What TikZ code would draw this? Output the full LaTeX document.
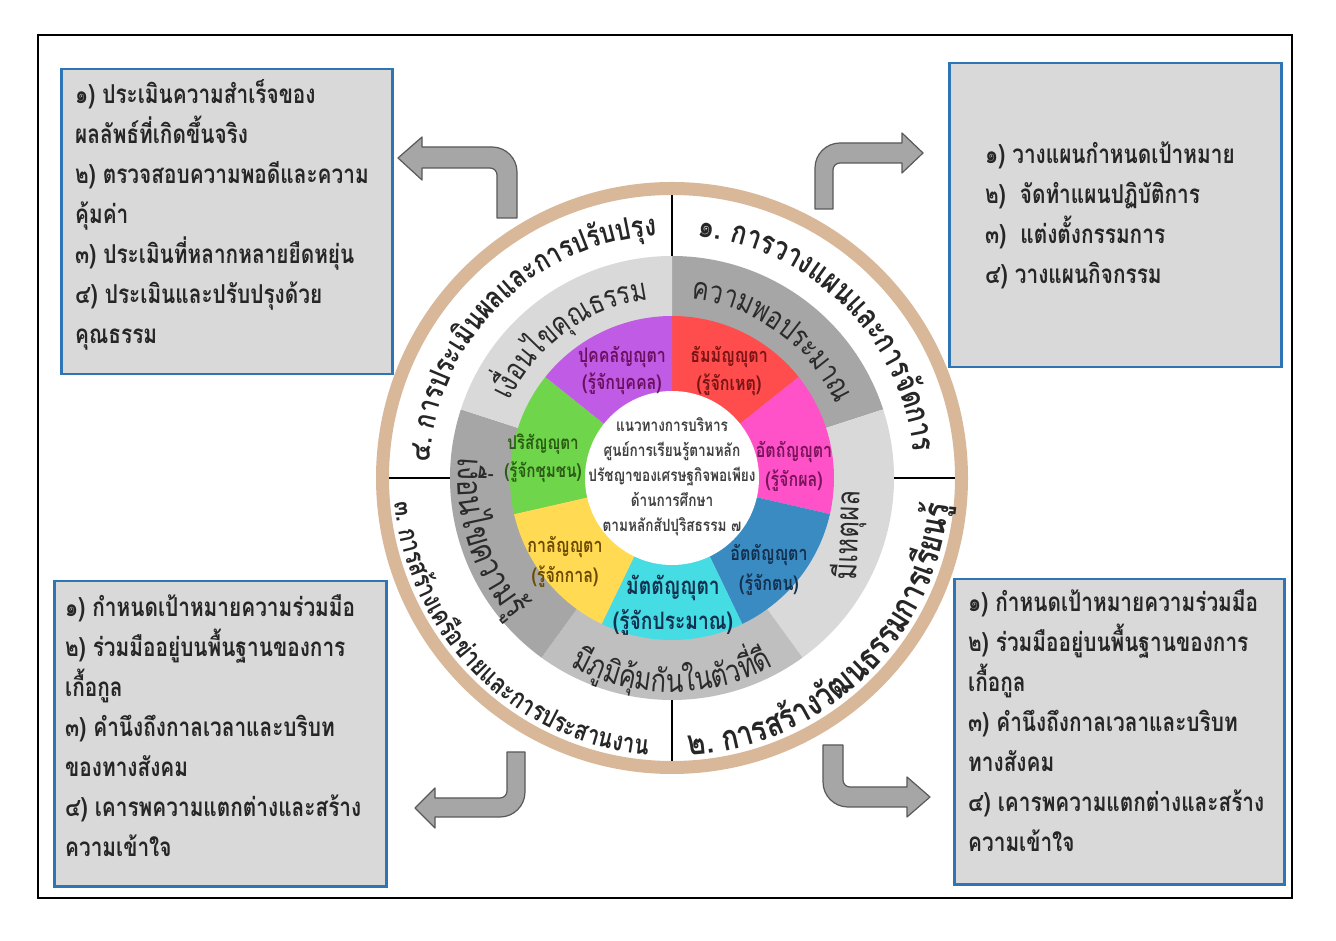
\documentclass[tikz,border=0pt]{standalone}
\usepackage{fontspec}
\setmainfont{Loma}[Script=Thai,FakeStretch=0.8]
\usetikzlibrary{decorations.text}
\definecolor{textcol}{HTML}{262626}
\definecolor{bandtext}{HTML}{2B2B2B}
\definecolor{hubtext}{HTML}{404040}
\definecolor{ringtan}{HTML}{D9B89A}
\definecolor{boxfill}{HTML}{D9D9D9}
\definecolor{boxline}{HTML}{2E75B6}
\definecolor{arrowfill}{HTML}{A6A6A6}
\definecolor{arrowline}{HTML}{595959}
\definecolor{bandcol1}{HTML}{A6A6A6}
\definecolor{bandcol2}{HTML}{D9D9D9}
\definecolor{bandcol3}{HTML}{BFBFBF}
\definecolor{vircol1}{HTML}{FF4D4D}
\definecolor{vircol2}{HTML}{FF52C8}
\definecolor{vircol3}{HTML}{3A8BC2}
\definecolor{vircol4}{HTML}{45DCE4}
\definecolor{vircol5}{HTML}{FFDA52}
\definecolor{vircol6}{HTML}{6FD64C}
\definecolor{vircol7}{HTML}{C05BE6}
\definecolor{virtxt1}{HTML}{7A1414}
\definecolor{virtxt2}{HTML}{7A145A}
\definecolor{virtxt3}{HTML}{14304F}
\definecolor{virtxt4}{HTML}{14304F}
\definecolor{virtxt5}{HTML}{6B4A00}
\definecolor{virtxt6}{HTML}{2A5A14}
\definecolor{virtxt7}{HTML}{6A1060}
\newcommand\ringfont[1]{\fontsize{#1}{#1}\selectfont\bfseries}
\newcommand\bandfont[1]{\fontsize{#1}{#1}\selectfont}
\tikzset{
  infobox/.style={draw=boxline,fill=boxfill,line width=2.5,anchor=north west},
  boxtext/.style={align=left,inner sep=0,text=textcol,font=\fontsize{26}{40}\selectfont\bfseries},
  bentarrow/.style={fill=arrowfill,draw=arrowline,line width=1.2,line join=round},
  ringlabel/.style={decorate,decoration={text along path,text align=center,text color=textcol,text={#1}}},
  bandlabel/.style={decorate,decoration={text along path,text align=center,text color=bandtext,text={#1}}},
  virtue/.style={align=center,inner sep=0},
}

\begin{document}
\begin{tikzpicture}[x=1pt,y=1pt]
\useasboundingbox (0,0) rectangle (1336,940);
\fill[white] (0,0) rectangle (1336,940);
\draw[line width=1.6] (38,42) rectangle (1292,905);

% wheel
\begin{scope}[shift={(672,462)}]
\foreach \col [count=\i from 0] in {bandcol1,bandcol2,bandcol3,bandcol1,bandcol2}{
	\pgfmathsetmacro\a{90-72*\i}
	\fill[\col] (0,0) -- (\a:222) arc[start angle=\a,delta angle=-72,radius=222] -- cycle;
	}
\foreach \i in {1,...,7}{
	\pgfmathsetmacro\a{90-360/7*(\i-1)}
	\fill[vircol\i] (0,0) -- (\a:162) arc[start angle=\a,delta angle=-51.4286,radius=162] -- cycle;
	}
\fill[white] (0,0) circle[radius=87];
\foreach \name/\sub/\fs/\ls/\px/\py [count=\i] in {
	ธัมมัญญุตา/รู้จักเหตุ/20/28/57/107,
	อัตถัญญุตา/รู้จักผล/20/29/122/12,
	อัตตัญญุตา/รู้จักตน/20/30/97/-92,
	มัตตัญญุตา/รู้จักประมาณ/24/35/1/-127,
	กาลัญญุตา/รู้จักกาล/20/30/-107/-84,
	ปริสัญญุตา/รู้จักชุมชน/19/28/-129/20,
	ปุคคลัญญุตา/รู้จักบุคคล/20/27/-50/107%
	}{
	\node[virtue,text=virtxt\i,font=\fontsize{\fs}{\ls}\selectfont\bfseries] (virtue\i) at (\px,\py) {\name\\(\sub)};
	}
\node[align=center,font=\fontsize{17}{25}\selectfont\bfseries,text=hubtext] (hub) at (0,1)
	{แนวทางการบริหาร\\ศูนย์การเรียนรู้ตามหลัก\\ปรัชญาของเศรษฐกิจพอเพียง\\ด้านการศึกษา\\ตามหลักสัปปุริสธรรม ๗};
\draw[ringtan,line width=13] (0,0) circle[radius=289.5];
\foreach \a in {0,90,180,270}
	\draw[line width=1.6] (\a:222) -- (\a:283);

% band texts
\path[bandlabel={|\bandfont{31}|ความพอประมาณ}] (90:180) arc[start angle=90,end angle=18,radius=180];
\path[bandlabel={|\bandfont{31}|เ{งื่}อนไข{คุ}ณธรรม}] (162:180) arc[start angle=162,end angle=90,radius=180];
\path[bandlabel={|\bandfont{32}|{มี}{ภู}{มิ}{คุ้}ม{กั}นใน{ตั}ว{ที่}{ดี}}] (-126:214) arc[start angle=-126,end angle=-54,radius=214];
\path[bandlabel={|\bandfont{35}|เ{งื่}อนไขความ{รู้}}] (162:214) arc[start angle=162,end angle=234,radius=214];
\node[text=bandtext,font=\bandfont{32},rotate=88] (reason) at (-18:186) {มีเหตุผล};

% ring texts
\path[ringlabel={|\ringfont{32}|๑. การวางแผนและการ{จั}ดการ}] (90:243) arc[start angle=90,end angle=0,radius=243];
\path[ringlabel={|\ringfont{35}|๒. การส{ร้}าง{วั}ฒนธรรมการเ{รี}ยน{รู้}}] (-92:278) arc[start angle=-92,end angle=0,radius=278];
\path[ringlabel={|\ringfont{27}|๓. การส{ร้}างเค{รื}อ{ข่}ายและการประสานงาน}] (180:278) arc[start angle=180,end angle=270,radius=278];
\path[ringlabel={|\ringfont{30}|๔. การประเ{มิ}นผลและการป{รั}บป{รุ}ง}] (180:243) arc[start angle=180,end angle=90,radius=243];
\end{scope}

% boxes
\node[infobox,minimum width=331,minimum height=305] (evalbox) at (60,872) {};
\node[infobox,minimum width=332,minimum height=304] (planbox) at (948,878) {};
\node[infobox,minimum width=332,minimum height=305] (netbox) at (53,360) {};
\node[infobox,minimum width=330,minimum height=305] (culturebox) at (953,362) {};

\node[boxtext,anchor=north west] (evaltext) at ([xshift=15,yshift=-11]evalbox.north west)
	{๑) ประเมินความสำเร็จของ\\ผลลัพธ์ที่เกิดขึ้นจริง\\๒) ตรวจสอบความพอดีและความ\\คุ้มค่า\\๓) ประเมินที่หลากหลายยืดหยุ่น\\๔) ประเมินและปรับปรุงด้วย\\คุณธรรม};
\node[boxtext,anchor=west] (plantext) at ([xshift=37]planbox.west)
	{๑) วางแผนกำหนดเป้าหมาย\\๒)~ จัดทำแผนปฏิบัติการ\\๓)~ แต่งตั้งกรรมการ\\๔) วางแผนกิจกรรม};
\node[boxtext,anchor=north west] (nettext) at ([xshift=12,yshift=-14]netbox.north west)
	{๑) กำหนดเป้าหมายความร่วมมือ\\๒) ร่วมมืออยู่บนพื้นฐานของการ\\เกื้อกูล\\๓) คำนึงถึงกาลเวลาและบริบท\\ของทางสังคม\\๔) เคารพความแตกต่างและสร้าง\\ความเข้าใจ};
\node[boxtext,anchor=north west] (culturetext) at ([xshift=15,yshift=-11]culturebox.north west)
	{๑) กำหนดเป้าหมายความร่วมมือ\\๒) ร่วมมืออยู่บนพื้นฐานของการ\\เกื้อกูล\\๓) คำนึงถึงกาลเวลาและบริบท\\ทางสังคม\\๔) เคารพความแตกต่างและสร้าง\\ความเข้าใจ};

% bent arrows
\filldraw[bentarrow] (398,782) -- (422,803) -- (422,793) -- (492,793)
	arc[start angle=90,end angle=0,radius=25] -- (517,722) -- (497,722) -- (497,765)
	arc[start angle=0,end angle=90,radius=7] -- (422,772) -- (422,760) -- cycle;
\filldraw[bentarrow] (815,731) -- (815,772) arc[start angle=180,end angle=90,radius=25]
	-- (902,797) -- (902,807) -- (923,787) -- (902,767) -- (902,777) -- (840,777)
	arc[start angle=90,end angle=180,radius=7] -- (833,731) -- cycle;
\filldraw[bentarrow] (507,188) -- (507,149) arc[start angle=0,end angle=-90,radius=7]
	-- (435,142) -- (435,152) -- (415,132) -- (435,112) -- (435,123) -- (500,123)
	arc[start angle=-90,end angle=0,radius=25] -- (525,188) -- cycle;
\filldraw[bentarrow] (823,195) -- (823,158) arc[start angle=180,end angle=270,radius=25]
	-- (907,133) -- (907,123) -- (930,143) -- (907,163) -- (907,153) -- (850,153)
	arc[start angle=270,end angle=180,radius=7] -- (843,195) -- cycle;
\end{tikzpicture}
\end{document}
